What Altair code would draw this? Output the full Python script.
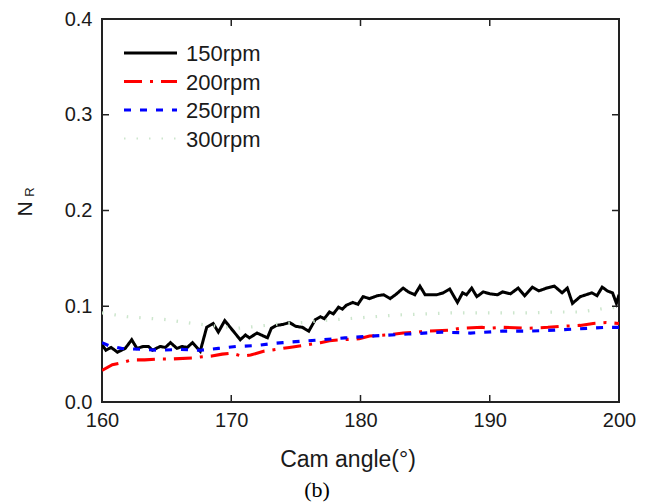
import altair as alt
import pandas as pd

series_names = ["150rpm", "200rpm", "250rpm", "300rpm"]
series_colors = ["#000000", "#ff0000", "#0000ff", "#cde6cd"]
series_dash = [[1, 0], [18, 8, 3, 8], [7, 9], [1.5, 11]]
series_width = [3.0, 3.2, 3.6, 2.0]

x_ticks = [160, 170, 180, 190, 200]
y_ticks = [0.0, 0.1, 0.2, 0.3, 0.4]

a150 = [160.0, 160.3, 160.7, 161.2, 161.8, 162.3, 162.7, 163.2, 163.6, 163.9, 164.5, 164.9, 165.3, 165.8,
        166.2, 166.6, 167.0, 167.6, 168.1, 168.6, 169.0, 169.5, 170.1, 170.7, 171.1, 171.4, 172.0, 172.8,
        173.1, 173.5, 174.0, 174.5, 175.0, 175.5, 176.0, 176.5, 176.9, 177.2, 177.6, 177.9, 178.3, 178.6,
        178.9, 179.4, 179.8, 180.2, 180.7, 181.3, 181.8, 182.3, 182.8, 183.3, 183.7, 184.2, 184.6, 185.0,
        185.9, 186.4, 186.9, 187.5, 187.9, 188.2, 188.6, 189.0, 189.5, 190.0, 190.6, 191.0, 191.6, 192.2,
        192.7, 193.3, 193.8, 194.4, 195.0, 195.6, 196.0, 196.4, 197.0, 197.9, 198.3, 198.7, 199.1, 199.5,
        199.8, 200.0]
v150 = [0.060, 0.054, 0.057, 0.052, 0.056, 0.065, 0.056, 0.058, 0.058, 0.054, 0.058, 0.057, 0.062, 0.056,
        0.058, 0.057, 0.062, 0.053, 0.078, 0.082, 0.073, 0.085, 0.075, 0.065, 0.070, 0.067, 0.072, 0.067,
        0.077, 0.080, 0.081, 0.083, 0.079, 0.078, 0.074, 0.086, 0.089, 0.087, 0.094, 0.092, 0.099, 0.097,
        0.101, 0.104, 0.102, 0.110, 0.108, 0.111, 0.112, 0.108, 0.113, 0.119, 0.115, 0.112, 0.121, 0.112,
        0.112, 0.114, 0.118, 0.104, 0.114, 0.112, 0.119, 0.110, 0.115, 0.113, 0.112, 0.115, 0.113, 0.119,
        0.111, 0.120, 0.116, 0.119, 0.121, 0.114, 0.119, 0.103, 0.110, 0.114, 0.111, 0.120, 0.116, 0.114,
        0.103, 0.112]

a200 = [160.0, 160.8, 161.5, 162.3, 163.3, 164.5, 165.5, 167.0, 167.6, 168.5, 169.3, 170.0, 170.8, 171.5,
        172.5, 173.5, 174.5, 175.5, 176.9, 177.6, 178.5, 179.9, 180.7, 182.0, 183.3, 184.5, 185.0, 186.8,
        187.8, 189.4, 190.0, 191.0, 193.0, 194.5, 195.5, 197.0, 198.0, 199.0, 200.0]
v200 = [0.033, 0.039, 0.041, 0.044, 0.044, 0.045, 0.045, 0.046, 0.047, 0.048, 0.050, 0.051, 0.048, 0.049,
        0.053, 0.055, 0.057, 0.059, 0.062, 0.064, 0.065, 0.066, 0.069, 0.070, 0.072, 0.073, 0.074, 0.075,
        0.077, 0.078, 0.077, 0.078, 0.077, 0.078, 0.079, 0.080, 0.082, 0.083, 0.082]

a250 = [160.0, 160.5, 161.5, 163.0, 164.5, 166.0, 167.6, 169.0, 170.4, 172.0, 173.1, 174.0, 175.0, 177.0,
        178.8, 181.1, 183.7, 186.3, 188.5, 191.0, 193.0, 195.0, 197.6, 199.0, 200.0]
v250 = [0.062, 0.059, 0.056, 0.055, 0.054, 0.055, 0.054, 0.056, 0.058, 0.059, 0.061, 0.062, 0.063, 0.065,
        0.067, 0.069, 0.071, 0.073, 0.072, 0.074, 0.074, 0.075, 0.077, 0.078, 0.078]

a300 = [160.0, 161.0, 162.0, 163.0, 165.0, 167.0, 169.0, 170.5, 172.0, 174.0, 175.5, 177.0, 179.0, 181.0,
        183.0, 185.0, 187.0, 190.0, 193.0, 195.0, 197.0, 199.0, 200.0]
v300 = [0.093, 0.091, 0.089, 0.088, 0.086, 0.082, 0.079, 0.077, 0.079, 0.082, 0.083, 0.085, 0.087, 0.089,
        0.091, 0.092, 0.093, 0.093, 0.093, 0.094, 0.094, 0.098, 0.099]

rows = []
for name, aa, vv in zip(series_names, [a150, a200, a250, a300], [v150, v200, v250, v300]):
    for i, (a, v) in enumerate(zip(aa, vv)):
        rows.append({"angle": a, "nr": v, "series": name, "order": i})
df = pd.DataFrame(rows)

W, H = 517, 383
FONT = "Liberation Sans"
TXT = "#1a1a1a"

xscale = alt.Scale(domain=[160, 200], nice=False, zero=False)
yscale = alt.Scale(domain=[0, 0.4], nice=False)

lines = alt.Chart(df).mark_line(clip=True).encode(
    x=alt.X("angle:Q", scale=xscale,
            axis=alt.Axis(values=x_ticks, title=None, ticks=False, domain=False, grid=False,
                          labelFontSize=20, labelFont=FONT, labelColor=TXT, labelFlush=False,
                          labelPadding=8, format="d")),
    y=alt.Y("nr:Q", scale=yscale,
            axis=alt.Axis(values=y_ticks, title=None, ticks=False, domain=False, grid=False,
                          labelFontSize=20, labelFont=FONT, labelColor=TXT, labelFlush=False,
                          labelPadding=10, format=".1f")),
    color=alt.Color("series:N", scale=alt.Scale(domain=series_names, range=series_colors), legend=None),
    strokeDash=alt.StrokeDash("series:N", scale=alt.Scale(domain=series_names, range=series_dash), legend=None),
    strokeWidth=alt.StrokeWidth("series:N", scale=alt.Scale(domain=series_names, range=series_width), legend=None),
    order="order:Q",
)

# legend drawn by hand (inside the plot, top-left)
legend_layers = []
row_y0, row_step = 34, 28.5
for i, name in enumerate(series_names):
    ly = row_y0 + i * row_step
    one = pd.DataFrame({"series": [name]})
    legend_layers.append(
        alt.Chart(one).mark_rule(color=series_colors[i], strokeDash=series_dash[i],
                                 strokeWidth=3 if i < 3 else 2).encode(
            x=alt.value(22), x2=alt.value(75), y=alt.value(ly)))
    legend_layers.append(
        alt.Chart(one).mark_text(font=FONT, fontSize=22, color=TXT, align="left",
                                 baseline="middle").encode(
            text="series:N", x=alt.value(84), y=alt.value(ly + 1)))

tick_len = 7
xt = pd.DataFrame({"v": x_ticks[1:-1]})
yt = pd.DataFrame({"v": y_ticks[1:-1]})

bottom_ticks = alt.Chart(xt).mark_rule(color="#222", strokeWidth=1.5).encode(
    x=alt.X("v:Q", scale=xscale), y=alt.value(H), y2=alt.value(H - tick_len))
top_ticks = alt.Chart(xt).mark_rule(color="#222", strokeWidth=1.5).encode(
    x=alt.X("v:Q", scale=xscale), y=alt.value(0), y2=alt.value(tick_len))
left_ticks = alt.Chart(yt).mark_rule(color="#222", strokeWidth=1.5).encode(
    y=alt.Y("v:Q", scale=yscale), x=alt.value(0), x2=alt.value(tick_len))
right_ticks = alt.Chart(yt).mark_rule(color="#222", strokeWidth=1.5).encode(
    y=alt.Y("v:Q", scale=yscale), x=alt.value(W), x2=alt.value(W - tick_len))

xtitle = alt.Chart(pd.DataFrame({"t": ["Cam angle(°)"]})).mark_text(
    font=FONT, fontSize=23, color=TXT, align="center", baseline="middle").encode(
    text="t:N", x=alt.value(246), y=alt.value(441))
btitle = alt.Chart(pd.DataFrame({"t": ["(b)"]})).mark_text(
    font="Liberation Serif", fontSize=22, color="#000", align="center", baseline="middle").encode(
    text="t:N", x=alt.value(215), y=alt.value(471))
ytitle_n = alt.Chart(pd.DataFrame({"t": ["N"]})).mark_text(
    font=FONT, fontSize=21, color=TXT, align="center", baseline="middle", angle=270).encode(
    text="t:N", x=alt.value(-76), y=alt.value(190))
ytitle_r = alt.Chart(pd.DataFrame({"t": ["R"]})).mark_text(
    font=FONT, fontSize=13, color=TXT, align="center", baseline="middle", angle=270).encode(
    text="t:N", x=alt.value(-72), y=alt.value(173))

chart = alt.layer(lines, *legend_layers, bottom_ticks, top_ticks, left_ticks, right_ticks,
                  xtitle, btitle, ytitle_n, ytitle_r).properties(
    width=W, height=H,
    padding={"left": 102, "top": 19, "right": 30, "bottom": 102},
    autosize=alt.AutoSizeParams(type="none"),
    background="white",
).configure_view(stroke="#222", strokeWidth=2)

chart.save("out.html", embed_options={"renderer": "svg", "actions": False})
